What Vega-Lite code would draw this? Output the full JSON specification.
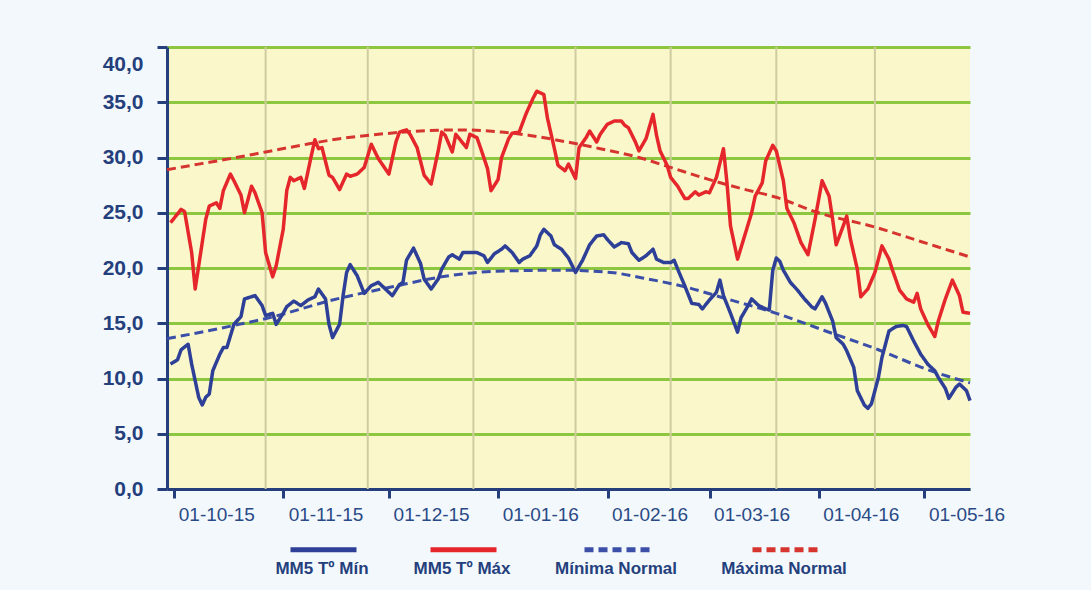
{
  "$schema": "https://vega.github.io/schema/vega-lite/v6.json",
  "width": 803,
  "height": 442,
  "autosize": {"type": "none"},
  "padding": {"left": 167, "top": 47, "right": 121, "bottom": 101},
  "background": "#f3f8fc",
  "datasets": {
    "vgrid": [
      {"date": "2015-10-15"}, {"date": "2015-11-13"}, {"date": "2015-12-13"}, {"date": "2016-01-11"},
      {"date": "2016-02-07"}, {"date": "2016-03-08"}, {"date": "2016-04-05"}
    ],
    "normals": [
      {"date": "2015-09-17", "temp": 28.9, "series": "Máxima Normal"},
      {"date": "2015-09-26", "temp": 29.4, "series": "Máxima Normal"},
      {"date": "2015-10-05", "temp": 29.9, "series": "Máxima Normal"},
      {"date": "2015-10-15", "temp": 30.5, "series": "Máxima Normal"},
      {"date": "2015-10-25", "temp": 31.1, "series": "Máxima Normal"},
      {"date": "2015-11-05", "temp": 31.7, "series": "Máxima Normal"},
      {"date": "2015-11-16", "temp": 32.1, "series": "Máxima Normal"},
      {"date": "2015-11-28", "temp": 32.4, "series": "Máxima Normal"},
      {"date": "2015-12-09", "temp": 32.5, "series": "Máxima Normal"},
      {"date": "2015-12-21", "temp": 32.3, "series": "Máxima Normal"},
      {"date": "2015-12-29", "temp": 32.0, "series": "Máxima Normal"},
      {"date": "2016-01-07", "temp": 31.5, "series": "Máxima Normal"},
      {"date": "2016-01-18", "temp": 30.8, "series": "Máxima Normal"},
      {"date": "2016-01-29", "temp": 30.0, "series": "Máxima Normal"},
      {"date": "2016-02-07", "temp": 29.1, "series": "Máxima Normal"},
      {"date": "2016-02-18", "temp": 28.0, "series": "Máxima Normal"},
      {"date": "2016-02-27", "temp": 27.2, "series": "Máxima Normal"},
      {"date": "2016-03-08", "temp": 26.4, "series": "Máxima Normal"},
      {"date": "2016-03-20", "temp": 25.0, "series": "Máxima Normal"},
      {"date": "2016-04-05", "temp": 23.7, "series": "Máxima Normal"},
      {"date": "2016-04-18", "temp": 22.4, "series": "Máxima Normal"},
      {"date": "2016-05-02", "temp": 21.0, "series": "Máxima Normal"},
      {"date": "2015-09-17", "temp": 13.6, "series": "Mínima Normal"},
      {"date": "2015-10-06", "temp": 14.8, "series": "Mínima Normal"},
      {"date": "2015-10-16", "temp": 15.5, "series": "Mínima Normal"},
      {"date": "2015-11-03", "temp": 17.1, "series": "Mínima Normal"},
      {"date": "2015-11-20", "temp": 18.3, "series": "Mínima Normal"},
      {"date": "2015-12-04", "temp": 19.2, "series": "Mínima Normal"},
      {"date": "2015-12-19", "temp": 19.7, "series": "Mínima Normal"},
      {"date": "2016-01-07", "temp": 19.8, "series": "Mínima Normal"},
      {"date": "2016-01-21", "temp": 19.6, "series": "Mínima Normal"},
      {"date": "2016-01-30", "temp": 19.1, "series": "Mínima Normal"},
      {"date": "2016-02-11", "temp": 18.3, "series": "Mínima Normal"},
      {"date": "2016-02-23", "temp": 17.2, "series": "Mínima Normal"},
      {"date": "2016-03-08", "temp": 15.9, "series": "Mínima Normal"},
      {"date": "2016-03-22", "temp": 14.3, "series": "Mínima Normal"},
      {"date": "2016-04-06", "temp": 12.6, "series": "Mínima Normal"},
      {"date": "2016-04-20", "temp": 10.8, "series": "Mínima Normal"},
      {"date": "2016-05-02", "temp": 9.6, "series": "Mínima Normal"}
    ],
    "mm5": [
      {"date": "2015-09-18", "temp": 24.1, "series": "MM5 Tº Máx"},
      {"date": "2015-09-21", "temp": 25.3, "series": "MM5 Tº Máx"},
      {"date": "2015-09-22", "temp": 25.1, "series": "MM5 Tº Máx"},
      {"date": "2015-09-24", "temp": 21.4, "series": "MM5 Tº Máx"},
      {"date": "2015-09-25", "temp": 18.1, "series": "MM5 Tº Máx"},
      {"date": "2015-09-26", "temp": 20.2, "series": "MM5 Tº Máx"},
      {"date": "2015-09-28", "temp": 24.4, "series": "MM5 Tº Máx"},
      {"date": "2015-09-29", "temp": 25.6, "series": "MM5 Tº Máx"},
      {"date": "2015-10-01", "temp": 25.9, "series": "MM5 Tº Máx"},
      {"date": "2015-10-02", "temp": 25.4, "series": "MM5 Tº Máx"},
      {"date": "2015-10-03", "temp": 27.0, "series": "MM5 Tº Máx"},
      {"date": "2015-10-05", "temp": 28.5, "series": "MM5 Tº Máx"},
      {"date": "2015-10-06", "temp": 27.9, "series": "MM5 Tº Máx"},
      {"date": "2015-10-08", "temp": 26.6, "series": "MM5 Tº Máx"},
      {"date": "2015-10-09", "temp": 25.0, "series": "MM5 Tº Máx"},
      {"date": "2015-10-11", "temp": 27.4, "series": "MM5 Tº Máx"},
      {"date": "2015-10-12", "temp": 26.8, "series": "MM5 Tº Máx"},
      {"date": "2015-10-14", "temp": 25.0, "series": "MM5 Tº Máx"},
      {"date": "2015-10-15", "temp": 21.4, "series": "MM5 Tº Máx"},
      {"date": "2015-10-17", "temp": 19.2, "series": "MM5 Tº Máx"},
      {"date": "2015-10-18", "temp": 20.2, "series": "MM5 Tº Máx"},
      {"date": "2015-10-20", "temp": 23.5, "series": "MM5 Tº Máx"},
      {"date": "2015-10-21", "temp": 27.0, "series": "MM5 Tº Máx"},
      {"date": "2015-10-22", "temp": 28.2, "series": "MM5 Tº Máx"},
      {"date": "2015-10-23", "temp": 27.9, "series": "MM5 Tº Máx"},
      {"date": "2015-10-25", "temp": 28.2, "series": "MM5 Tº Máx"},
      {"date": "2015-10-26", "temp": 27.2, "series": "MM5 Tº Máx"},
      {"date": "2015-10-28", "temp": 30.2, "series": "MM5 Tº Máx"},
      {"date": "2015-10-29", "temp": 31.6, "series": "MM5 Tº Máx"},
      {"date": "2015-10-30", "temp": 30.8, "series": "MM5 Tº Máx"},
      {"date": "2015-10-31", "temp": 30.9, "series": "MM5 Tº Máx"},
      {"date": "2015-11-02", "temp": 28.4, "series": "MM5 Tº Máx"},
      {"date": "2015-11-03", "temp": 28.2, "series": "MM5 Tº Máx"},
      {"date": "2015-11-05", "temp": 27.1, "series": "MM5 Tº Máx"},
      {"date": "2015-11-07", "temp": 28.5, "series": "MM5 Tº Máx"},
      {"date": "2015-11-08", "temp": 28.3, "series": "MM5 Tº Máx"},
      {"date": "2015-11-10", "temp": 28.5, "series": "MM5 Tº Máx"},
      {"date": "2015-11-12", "temp": 29.1, "series": "MM5 Tº Máx"},
      {"date": "2015-11-14", "temp": 31.2, "series": "MM5 Tº Máx"},
      {"date": "2015-11-16", "temp": 29.9, "series": "MM5 Tº Máx"},
      {"date": "2015-11-19", "temp": 28.5, "series": "MM5 Tº Máx"},
      {"date": "2015-11-21", "temp": 31.4, "series": "MM5 Tº Máx"},
      {"date": "2015-11-22", "temp": 32.3, "series": "MM5 Tº Máx"},
      {"date": "2015-11-24", "temp": 32.5, "series": "MM5 Tº Máx"},
      {"date": "2015-11-25", "temp": 32.1, "series": "MM5 Tº Máx"},
      {"date": "2015-11-27", "temp": 30.9, "series": "MM5 Tº Máx"},
      {"date": "2015-11-29", "temp": 28.4, "series": "MM5 Tº Máx"},
      {"date": "2015-12-01", "temp": 27.6, "series": "MM5 Tº Máx"},
      {"date": "2015-12-03", "temp": 30.6, "series": "MM5 Tº Máx"},
      {"date": "2015-12-04", "temp": 32.3, "series": "MM5 Tº Máx"},
      {"date": "2015-12-05", "temp": 32.0, "series": "MM5 Tº Máx"},
      {"date": "2015-12-07", "temp": 30.5, "series": "MM5 Tº Máx"},
      {"date": "2015-12-08", "temp": 32.1, "series": "MM5 Tº Máx"},
      {"date": "2015-12-11", "temp": 30.9, "series": "MM5 Tº Máx"},
      {"date": "2015-12-12", "temp": 32.1, "series": "MM5 Tº Máx"},
      {"date": "2015-12-14", "temp": 31.8, "series": "MM5 Tº Máx"},
      {"date": "2015-12-15", "temp": 30.9, "series": "MM5 Tº Máx"},
      {"date": "2015-12-17", "temp": 29.0, "series": "MM5 Tº Máx"},
      {"date": "2015-12-18", "temp": 27.0, "series": "MM5 Tº Máx"},
      {"date": "2015-12-20", "temp": 28.0, "series": "MM5 Tº Máx"},
      {"date": "2015-12-21", "temp": 30.0, "series": "MM5 Tº Máx"},
      {"date": "2015-12-23", "temp": 31.7, "series": "MM5 Tº Máx"},
      {"date": "2015-12-24", "temp": 32.2, "series": "MM5 Tº Máx"},
      {"date": "2015-12-26", "temp": 32.3, "series": "MM5 Tº Máx"},
      {"date": "2015-12-28", "temp": 34.0, "series": "MM5 Tº Máx"},
      {"date": "2015-12-30", "temp": 35.4, "series": "MM5 Tº Máx"},
      {"date": "2015-12-31", "temp": 36.0, "series": "MM5 Tº Máx"},
      {"date": "2016-01-02", "temp": 35.7, "series": "MM5 Tº Máx"},
      {"date": "2016-01-03", "temp": 33.6, "series": "MM5 Tº Máx"},
      {"date": "2016-01-05", "temp": 30.8, "series": "MM5 Tº Máx"},
      {"date": "2016-01-06", "temp": 29.3, "series": "MM5 Tº Máx"},
      {"date": "2016-01-08", "temp": 28.8, "series": "MM5 Tº Máx"},
      {"date": "2016-01-09", "temp": 29.4, "series": "MM5 Tº Máx"},
      {"date": "2016-01-11", "temp": 28.1, "series": "MM5 Tº Máx"},
      {"date": "2016-01-12", "temp": 30.9, "series": "MM5 Tº Máx"},
      {"date": "2016-01-14", "temp": 31.8, "series": "MM5 Tº Máx"},
      {"date": "2016-01-15", "temp": 32.4, "series": "MM5 Tº Máx"},
      {"date": "2016-01-17", "temp": 31.4, "series": "MM5 Tº Máx"},
      {"date": "2016-01-18", "temp": 32.1, "series": "MM5 Tº Máx"},
      {"date": "2016-01-20", "temp": 33.0, "series": "MM5 Tº Máx"},
      {"date": "2016-01-22", "temp": 33.3, "series": "MM5 Tº Máx"},
      {"date": "2016-01-24", "temp": 33.3, "series": "MM5 Tº Máx"},
      {"date": "2016-01-25", "temp": 32.9, "series": "MM5 Tº Máx"},
      {"date": "2016-01-26", "temp": 32.7, "series": "MM5 Tº Máx"},
      {"date": "2016-01-28", "temp": 31.4, "series": "MM5 Tº Máx"},
      {"date": "2016-01-29", "temp": 30.6, "series": "MM5 Tº Máx"},
      {"date": "2016-01-31", "temp": 31.7, "series": "MM5 Tº Máx"},
      {"date": "2016-02-02", "temp": 33.9, "series": "MM5 Tº Máx"},
      {"date": "2016-02-03", "temp": 32.0, "series": "MM5 Tº Máx"},
      {"date": "2016-02-04", "temp": 30.6, "series": "MM5 Tº Máx"},
      {"date": "2016-02-06", "temp": 29.3, "series": "MM5 Tº Máx"},
      {"date": "2016-02-07", "temp": 28.2, "series": "MM5 Tº Máx"},
      {"date": "2016-02-09", "temp": 27.4, "series": "MM5 Tº Máx"},
      {"date": "2016-02-11", "temp": 26.3, "series": "MM5 Tº Máx"},
      {"date": "2016-02-12", "temp": 26.3, "series": "MM5 Tº Máx"},
      {"date": "2016-02-14", "temp": 26.9, "series": "MM5 Tº Máx"},
      {"date": "2016-02-15", "temp": 26.6, "series": "MM5 Tº Máx"},
      {"date": "2016-02-17", "temp": 26.9, "series": "MM5 Tº Máx"},
      {"date": "2016-02-18", "temp": 26.8, "series": "MM5 Tº Máx"},
      {"date": "2016-02-20", "temp": 28.2, "series": "MM5 Tº Máx"},
      {"date": "2016-02-22", "temp": 30.8, "series": "MM5 Tº Máx"},
      {"date": "2016-02-23", "temp": 27.7, "series": "MM5 Tº Máx"},
      {"date": "2016-02-24", "temp": 23.8, "series": "MM5 Tº Máx"},
      {"date": "2016-02-26", "temp": 20.8, "series": "MM5 Tº Máx"},
      {"date": "2016-02-28", "temp": 22.9, "series": "MM5 Tº Máx"},
      {"date": "2016-03-01", "temp": 25.0, "series": "MM5 Tº Máx"},
      {"date": "2016-03-02", "temp": 26.5, "series": "MM5 Tº Máx"},
      {"date": "2016-03-04", "temp": 27.7, "series": "MM5 Tº Máx"},
      {"date": "2016-03-05", "temp": 29.7, "series": "MM5 Tº Máx"},
      {"date": "2016-03-07", "temp": 31.1, "series": "MM5 Tº Máx"},
      {"date": "2016-03-08", "temp": 30.6, "series": "MM5 Tº Máx"},
      {"date": "2016-03-10", "temp": 27.9, "series": "MM5 Tº Máx"},
      {"date": "2016-03-11", "temp": 25.4, "series": "MM5 Tº Máx"},
      {"date": "2016-03-13", "temp": 24.1, "series": "MM5 Tº Máx"},
      {"date": "2016-03-15", "temp": 22.3, "series": "MM5 Tº Máx"},
      {"date": "2016-03-17", "temp": 21.2, "series": "MM5 Tº Máx"},
      {"date": "2016-03-19", "temp": 24.4, "series": "MM5 Tº Máx"},
      {"date": "2016-03-21", "temp": 27.9, "series": "MM5 Tº Máx"},
      {"date": "2016-03-23", "temp": 26.5, "series": "MM5 Tº Máx"},
      {"date": "2016-03-24", "temp": 24.4, "series": "MM5 Tº Máx"},
      {"date": "2016-03-25", "temp": 22.1, "series": "MM5 Tº Máx"},
      {"date": "2016-03-27", "temp": 23.8, "series": "MM5 Tº Máx"},
      {"date": "2016-03-28", "temp": 24.7, "series": "MM5 Tº Máx"},
      {"date": "2016-03-29", "temp": 22.7, "series": "MM5 Tº Máx"},
      {"date": "2016-03-31", "temp": 19.9, "series": "MM5 Tº Máx"},
      {"date": "2016-04-01", "temp": 17.4, "series": "MM5 Tº Máx"},
      {"date": "2016-04-03", "temp": 18.1, "series": "MM5 Tº Máx"},
      {"date": "2016-04-05", "temp": 19.6, "series": "MM5 Tº Máx"},
      {"date": "2016-04-07", "temp": 22.0, "series": "MM5 Tº Máx"},
      {"date": "2016-04-09", "temp": 20.8, "series": "MM5 Tº Máx"},
      {"date": "2016-04-10", "temp": 19.8, "series": "MM5 Tº Máx"},
      {"date": "2016-04-12", "temp": 18.0, "series": "MM5 Tº Máx"},
      {"date": "2016-04-14", "temp": 17.2, "series": "MM5 Tº Máx"},
      {"date": "2016-04-16", "temp": 16.9, "series": "MM5 Tº Máx"},
      {"date": "2016-04-17", "temp": 17.7, "series": "MM5 Tº Máx"},
      {"date": "2016-04-18", "temp": 16.3, "series": "MM5 Tº Máx"},
      {"date": "2016-04-20", "temp": 14.9, "series": "MM5 Tº Máx"},
      {"date": "2016-04-22", "temp": 13.8, "series": "MM5 Tº Máx"},
      {"date": "2016-04-23", "temp": 15.2, "series": "MM5 Tº Máx"},
      {"date": "2016-04-25", "temp": 17.2, "series": "MM5 Tº Máx"},
      {"date": "2016-04-27", "temp": 18.9, "series": "MM5 Tº Máx"},
      {"date": "2016-04-29", "temp": 17.5, "series": "MM5 Tº Máx"},
      {"date": "2016-04-30", "temp": 16.0, "series": "MM5 Tº Máx"},
      {"date": "2016-05-02", "temp": 15.9, "series": "MM5 Tº Máx"},
      {"date": "2015-09-18", "temp": 11.3, "series": "MM5 Tº Mín"},
      {"date": "2015-09-20", "temp": 11.7, "series": "MM5 Tº Mín"},
      {"date": "2015-09-21", "temp": 12.6, "series": "MM5 Tº Mín"},
      {"date": "2015-09-23", "temp": 13.1, "series": "MM5 Tº Mín"},
      {"date": "2015-09-24", "temp": 11.3, "series": "MM5 Tº Mín"},
      {"date": "2015-09-26", "temp": 8.3, "series": "MM5 Tº Mín"},
      {"date": "2015-09-27", "temp": 7.6, "series": "MM5 Tº Mín"},
      {"date": "2015-09-28", "temp": 8.3, "series": "MM5 Tº Mín"},
      {"date": "2015-09-29", "temp": 8.6, "series": "MM5 Tº Mín"},
      {"date": "2015-09-30", "temp": 10.7, "series": "MM5 Tº Mín"},
      {"date": "2015-10-02", "temp": 12.2, "series": "MM5 Tº Mín"},
      {"date": "2015-10-03", "temp": 12.8, "series": "MM5 Tº Mín"},
      {"date": "2015-10-04", "temp": 12.8, "series": "MM5 Tº Mín"},
      {"date": "2015-10-06", "temp": 14.9, "series": "MM5 Tº Mín"},
      {"date": "2015-10-08", "temp": 15.6, "series": "MM5 Tº Mín"},
      {"date": "2015-10-09", "temp": 17.2, "series": "MM5 Tº Mín"},
      {"date": "2015-10-11", "temp": 17.4, "series": "MM5 Tº Mín"},
      {"date": "2015-10-12", "temp": 17.5, "series": "MM5 Tº Mín"},
      {"date": "2015-10-14", "temp": 16.6, "series": "MM5 Tº Mín"},
      {"date": "2015-10-15", "temp": 15.7, "series": "MM5 Tº Mín"},
      {"date": "2015-10-17", "temp": 15.9, "series": "MM5 Tº Mín"},
      {"date": "2015-10-18", "temp": 14.9, "series": "MM5 Tº Mín"},
      {"date": "2015-10-20", "temp": 15.9, "series": "MM5 Tº Mín"},
      {"date": "2015-10-21", "temp": 16.5, "series": "MM5 Tº Mín"},
      {"date": "2015-10-23", "temp": 17.0, "series": "MM5 Tº Mín"},
      {"date": "2015-10-25", "temp": 16.6, "series": "MM5 Tº Mín"},
      {"date": "2015-10-27", "temp": 17.1, "series": "MM5 Tº Mín"},
      {"date": "2015-10-29", "temp": 17.4, "series": "MM5 Tº Mín"},
      {"date": "2015-10-30", "temp": 18.1, "series": "MM5 Tº Mín"},
      {"date": "2015-11-01", "temp": 17.2, "series": "MM5 Tº Mín"},
      {"date": "2015-11-02", "temp": 14.9, "series": "MM5 Tº Mín"},
      {"date": "2015-11-03", "temp": 13.7, "series": "MM5 Tº Mín"},
      {"date": "2015-11-05", "temp": 14.9, "series": "MM5 Tº Mín"},
      {"date": "2015-11-06", "temp": 17.5, "series": "MM5 Tº Mín"},
      {"date": "2015-11-07", "temp": 19.6, "series": "MM5 Tº Mín"},
      {"date": "2015-11-08", "temp": 20.3, "series": "MM5 Tº Mín"},
      {"date": "2015-11-10", "temp": 19.3, "series": "MM5 Tº Mín"},
      {"date": "2015-11-12", "temp": 17.7, "series": "MM5 Tº Mín"},
      {"date": "2015-11-14", "temp": 18.4, "series": "MM5 Tº Mín"},
      {"date": "2015-11-16", "temp": 18.7, "series": "MM5 Tº Mín"},
      {"date": "2015-11-18", "temp": 18.1, "series": "MM5 Tº Mín"},
      {"date": "2015-11-20", "temp": 17.5, "series": "MM5 Tº Mín"},
      {"date": "2015-11-22", "temp": 18.5, "series": "MM5 Tº Mín"},
      {"date": "2015-11-23", "temp": 18.7, "series": "MM5 Tº Mín"},
      {"date": "2015-11-24", "temp": 20.7, "series": "MM5 Tº Mín"},
      {"date": "2015-11-26", "temp": 21.8, "series": "MM5 Tº Mín"},
      {"date": "2015-11-28", "temp": 20.4, "series": "MM5 Tº Mín"},
      {"date": "2015-11-29", "temp": 19.0, "series": "MM5 Tº Mín"},
      {"date": "2015-12-01", "temp": 18.1, "series": "MM5 Tº Mín"},
      {"date": "2015-12-03", "temp": 19.0, "series": "MM5 Tº Mín"},
      {"date": "2015-12-04", "temp": 19.9, "series": "MM5 Tº Mín"},
      {"date": "2015-12-06", "temp": 21.0, "series": "MM5 Tº Mín"},
      {"date": "2015-12-07", "temp": 21.2, "series": "MM5 Tº Mín"},
      {"date": "2015-12-09", "temp": 20.8, "series": "MM5 Tº Mín"},
      {"date": "2015-12-10", "temp": 21.4, "series": "MM5 Tº Mín"},
      {"date": "2015-12-13", "temp": 21.4, "series": "MM5 Tº Mín"},
      {"date": "2015-12-14", "temp": 21.4, "series": "MM5 Tº Mín"},
      {"date": "2015-12-16", "temp": 21.1, "series": "MM5 Tº Mín"},
      {"date": "2015-12-17", "temp": 20.5, "series": "MM5 Tº Mín"},
      {"date": "2015-12-19", "temp": 21.3, "series": "MM5 Tº Mín"},
      {"date": "2015-12-21", "temp": 21.7, "series": "MM5 Tº Mín"},
      {"date": "2015-12-22", "temp": 22.0, "series": "MM5 Tº Mín"},
      {"date": "2015-12-24", "temp": 21.4, "series": "MM5 Tº Mín"},
      {"date": "2015-12-26", "temp": 20.5, "series": "MM5 Tº Mín"},
      {"date": "2015-12-27", "temp": 20.8, "series": "MM5 Tº Mín"},
      {"date": "2015-12-29", "temp": 21.1, "series": "MM5 Tº Mín"},
      {"date": "2015-12-31", "temp": 22.0, "series": "MM5 Tº Mín"},
      {"date": "2016-01-01", "temp": 23.0, "series": "MM5 Tº Mín"},
      {"date": "2016-01-02", "temp": 23.5, "series": "MM5 Tº Mín"},
      {"date": "2016-01-04", "temp": 22.9, "series": "MM5 Tº Mín"},
      {"date": "2016-01-05", "temp": 22.1, "series": "MM5 Tº Mín"},
      {"date": "2016-01-07", "temp": 21.7, "series": "MM5 Tº Mín"},
      {"date": "2016-01-09", "temp": 20.9, "series": "MM5 Tº Mín"},
      {"date": "2016-01-11", "temp": 19.6, "series": "MM5 Tº Mín"},
      {"date": "2016-01-13", "temp": 20.7, "series": "MM5 Tº Mín"},
      {"date": "2016-01-15", "temp": 22.1, "series": "MM5 Tº Mín"},
      {"date": "2016-01-17", "temp": 22.9, "series": "MM5 Tº Mín"},
      {"date": "2016-01-19", "temp": 23.0, "series": "MM5 Tº Mín"},
      {"date": "2016-01-20", "temp": 22.6, "series": "MM5 Tº Mín"},
      {"date": "2016-01-22", "temp": 21.9, "series": "MM5 Tº Mín"},
      {"date": "2016-01-24", "temp": 22.3, "series": "MM5 Tº Mín"},
      {"date": "2016-01-26", "temp": 22.2, "series": "MM5 Tº Mín"},
      {"date": "2016-01-27", "temp": 21.4, "series": "MM5 Tº Mín"},
      {"date": "2016-01-29", "temp": 20.7, "series": "MM5 Tº Mín"},
      {"date": "2016-01-31", "temp": 21.1, "series": "MM5 Tº Mín"},
      {"date": "2016-02-02", "temp": 21.7, "series": "MM5 Tº Mín"},
      {"date": "2016-02-03", "temp": 20.8, "series": "MM5 Tº Mín"},
      {"date": "2016-02-05", "temp": 20.5, "series": "MM5 Tº Mín"},
      {"date": "2016-02-07", "temp": 20.5, "series": "MM5 Tº Mín"},
      {"date": "2016-02-08", "temp": 20.7, "series": "MM5 Tº Mín"},
      {"date": "2016-02-09", "temp": 19.9, "series": "MM5 Tº Mín"},
      {"date": "2016-02-11", "temp": 18.4, "series": "MM5 Tº Mín"},
      {"date": "2016-02-13", "temp": 16.8, "series": "MM5 Tº Mín"},
      {"date": "2016-02-15", "temp": 16.7, "series": "MM5 Tº Mín"},
      {"date": "2016-02-16", "temp": 16.3, "series": "MM5 Tº Mín"},
      {"date": "2016-02-18", "temp": 17.1, "series": "MM5 Tº Mín"},
      {"date": "2016-02-20", "temp": 17.8, "series": "MM5 Tº Mín"},
      {"date": "2016-02-21", "temp": 18.9, "series": "MM5 Tº Mín"},
      {"date": "2016-02-22", "temp": 17.5, "series": "MM5 Tº Mín"},
      {"date": "2016-02-24", "temp": 15.9, "series": "MM5 Tº Mín"},
      {"date": "2016-02-26", "temp": 14.2, "series": "MM5 Tº Mín"},
      {"date": "2016-02-27", "temp": 15.5, "series": "MM5 Tº Mín"},
      {"date": "2016-02-29", "temp": 16.6, "series": "MM5 Tº Mín"},
      {"date": "2016-03-01", "temp": 17.2, "series": "MM5 Tº Mín"},
      {"date": "2016-03-03", "temp": 16.6, "series": "MM5 Tº Mín"},
      {"date": "2016-03-05", "temp": 16.3, "series": "MM5 Tº Mín"},
      {"date": "2016-03-06", "temp": 16.2, "series": "MM5 Tº Mín"},
      {"date": "2016-03-07", "temp": 19.8, "series": "MM5 Tº Mín"},
      {"date": "2016-03-08", "temp": 20.9, "series": "MM5 Tº Mín"},
      {"date": "2016-03-09", "temp": 20.6, "series": "MM5 Tº Mín"},
      {"date": "2016-03-10", "temp": 19.8, "series": "MM5 Tº Mín"},
      {"date": "2016-03-12", "temp": 18.7, "series": "MM5 Tº Mín"},
      {"date": "2016-03-14", "temp": 18.0, "series": "MM5 Tº Mín"},
      {"date": "2016-03-16", "temp": 17.2, "series": "MM5 Tº Mín"},
      {"date": "2016-03-18", "temp": 16.5, "series": "MM5 Tº Mín"},
      {"date": "2016-03-19", "temp": 16.3, "series": "MM5 Tº Mín"},
      {"date": "2016-03-21", "temp": 17.4, "series": "MM5 Tº Mín"},
      {"date": "2016-03-22", "temp": 16.8, "series": "MM5 Tº Mín"},
      {"date": "2016-03-24", "temp": 15.2, "series": "MM5 Tº Mín"},
      {"date": "2016-03-25", "temp": 13.7, "series": "MM5 Tº Mín"},
      {"date": "2016-03-27", "temp": 13.1, "series": "MM5 Tº Mín"},
      {"date": "2016-03-28", "temp": 12.5, "series": "MM5 Tº Mín"},
      {"date": "2016-03-30", "temp": 11.0, "series": "MM5 Tº Mín"},
      {"date": "2016-03-31", "temp": 8.9, "series": "MM5 Tº Mín"},
      {"date": "2016-04-02", "temp": 7.6, "series": "MM5 Tº Mín"},
      {"date": "2016-04-03", "temp": 7.3, "series": "MM5 Tº Mín"},
      {"date": "2016-04-04", "temp": 7.7, "series": "MM5 Tº Mín"},
      {"date": "2016-04-06", "temp": 10.1, "series": "MM5 Tº Mín"},
      {"date": "2016-04-07", "temp": 11.9, "series": "MM5 Tº Mín"},
      {"date": "2016-04-09", "temp": 14.3, "series": "MM5 Tº Mín"},
      {"date": "2016-04-11", "temp": 14.7, "series": "MM5 Tº Mín"},
      {"date": "2016-04-13", "temp": 14.8, "series": "MM5 Tº Mín"},
      {"date": "2016-04-14", "temp": 14.7, "series": "MM5 Tº Mín"},
      {"date": "2016-04-16", "temp": 13.4, "series": "MM5 Tº Mín"},
      {"date": "2016-04-18", "temp": 12.2, "series": "MM5 Tº Mín"},
      {"date": "2016-04-20", "temp": 11.3, "series": "MM5 Tº Mín"},
      {"date": "2016-04-22", "temp": 10.7, "series": "MM5 Tº Mín"},
      {"date": "2016-04-23", "temp": 10.1, "series": "MM5 Tº Mín"},
      {"date": "2016-04-25", "temp": 9.1, "series": "MM5 Tº Mín"},
      {"date": "2016-04-26", "temp": 8.2, "series": "MM5 Tº Mín"},
      {"date": "2016-04-28", "temp": 9.2, "series": "MM5 Tº Mín"},
      {"date": "2016-04-29", "temp": 9.5, "series": "MM5 Tº Mín"},
      {"date": "2016-05-01", "temp": 8.9, "series": "MM5 Tº Mín"},
      {"date": "2016-05-02", "temp": 8.0, "series": "MM5 Tº Mín"}
    ]
  },
  "encoding": {
    "x": {
      "field": "date",
      "type": "temporal",
      "scale": {
        "type": "utc",
        "domain": [
          {"year": 2015, "month": 9, "date": 17, "utc": true},
          {"year": 2016, "month": 5, "date": 2, "utc": true}
        ]
      },
      "axis": {
        "title": null,
        "values": [
          {"year": 2015, "month": 10, "date": 1, "utc": true},
          {"year": 2015, "month": 11, "date": 1, "utc": true},
          {"year": 2015, "month": 12, "date": 1, "utc": true},
          {"year": 2016, "month": 1, "date": 1, "utc": true},
          {"year": 2016, "month": 2, "date": 1, "utc": true},
          {"year": 2016, "month": 3, "date": 1, "utc": true},
          {"year": 2016, "month": 4, "date": 1, "utc": true},
          {"year": 2016, "month": 5, "date": 1, "utc": true}
        ],
        "format": "%d-%m-%y",
        "labelFont": "Liberation Sans",
        "labelFontSize": 19,
        "labelFontWeight": "normal",
        "labelColor": "#2a4a86",
        "labelPadding": 7,
        "labelFlush": false,
        "labelOverlap": false,
        "labelBound": false,
        "tickOffset": -42,
        "labelOffset": 42,
        "tickSize": 9,
        "tickWidth": 3,
        "tickColor": "#243f7c",
        "domainColor": "#243f7c",
        "domainWidth": 3,
        "grid": false
      }
    }
  },
  "layer": [
    {
      "data": {"name": "vgrid"},
      "mark": {"type": "rule", "color": "#cfcca0", "strokeWidth": 2},
      "encoding": {}
    },
    {
      "data": {"name": "normals"},
      "mark": {"type": "line", "interpolate": "monotone", "strokeWidth": 3},
      "encoding": {
        "y": {
          "field": "temp",
          "type": "quantitative",
          "scale": {"domain": [0, 40], "nice": false},
          "axis": {
            "title": null,
            "values": [0, 5, 10, 15, 20, 25, 30, 35, 40],
            "labelExpr": "replace(format(datum.value, '.1f'), '.', ',')",
            "labelFont": "Liberation Sans",
            "labelFontWeight": "bold",
            "labelFontSize": 21,
            "labelColor": "#243f7c",
            "labelPadding": 14,
            "labelOffset": {"condition": {"test": "datum.value == 40", "value": 17}, "value": 0},
            "tickSize": 10,
            "tickWidth": 3,
            "tickColor": "#243f7c",
            "domainColor": "#243f7c",
            "domainWidth": 3,
            "grid": true,
            "gridColor": "#8dc63f",
            "gridWidth": 3,
            "gridOpacity": 1
          }
        },
        "color": {
          "field": "series",
          "type": "nominal",
          "scale": {
            "domain": ["MM5 Tº Mín", "MM5 Tº Máx", "Mínima Normal", "Máxima Normal"],
            "range": ["#2e3f98", "#e5262b", "#3b4fa8", "#d6342f"]
          },
          "legend": {
            "orient": "none",
            "legendX": 144,
            "legendY": 501,
            "direction": "horizontal",
            "columns": 4,
            "title": null
          }
        },
        "strokeDash": {
          "field": "series",
          "type": "nominal",
          "scale": {
            "domain": ["MM5 Tº Mín", "MM5 Tº Máx", "Mínima Normal", "Máxima Normal"],
            "range": [[1, 0], [1, 0], [9, 5], [9, 5]]
          },
          "legend": {
            "orient": "none",
            "legendX": 144,
            "legendY": 501,
            "direction": "horizontal",
            "columns": 4,
            "title": null
          }
        }
      }
    },
    {
      "data": {"name": "mm5"},
      "mark": {"type": "line", "strokeWidth": 3.5, "strokeJoin": "round"},
      "encoding": {
        "y": {"field": "temp", "type": "quantitative", "scale": {"domain": [0, 40], "nice": false}},
        "color": {
          "field": "series",
          "type": "nominal",
          "scale": {
            "domain": ["MM5 Tº Mín", "MM5 Tº Máx", "Mínima Normal", "Máxima Normal"],
            "range": ["#2e3f98", "#e5262b", "#3b4fa8", "#d6342f"]
          }
        },
        "strokeDash": {
          "field": "series",
          "type": "nominal",
          "scale": {
            "domain": ["MM5 Tº Mín", "MM5 Tº Máx", "Mínima Normal", "Máxima Normal"],
            "range": [[1, 0], [1, 0], [9, 5], [9, 5]]
          }
        }
      }
    }
  ],
  "config": {
    "font": "Liberation Sans",
    "view": {"fill": "#faf8cb", "stroke": null},
    "legend": {
      "symbolType": "M-3.3,-1.1L3.3,-1.1",
      "symbolSize": 400,
      "symbolStrokeWidth": 5,
      "labelFont": "Liberation Sans",
      "labelFontWeight": "bold",
      "labelFontSize": 17,
      "labelColor": "#243f7c",
      "labelAlign": "center",
      "labelBaseline": "top",
      "labelOffset": -14,
      "labelLimit": 300,
      "columnPadding": 44
    }
  }
}
